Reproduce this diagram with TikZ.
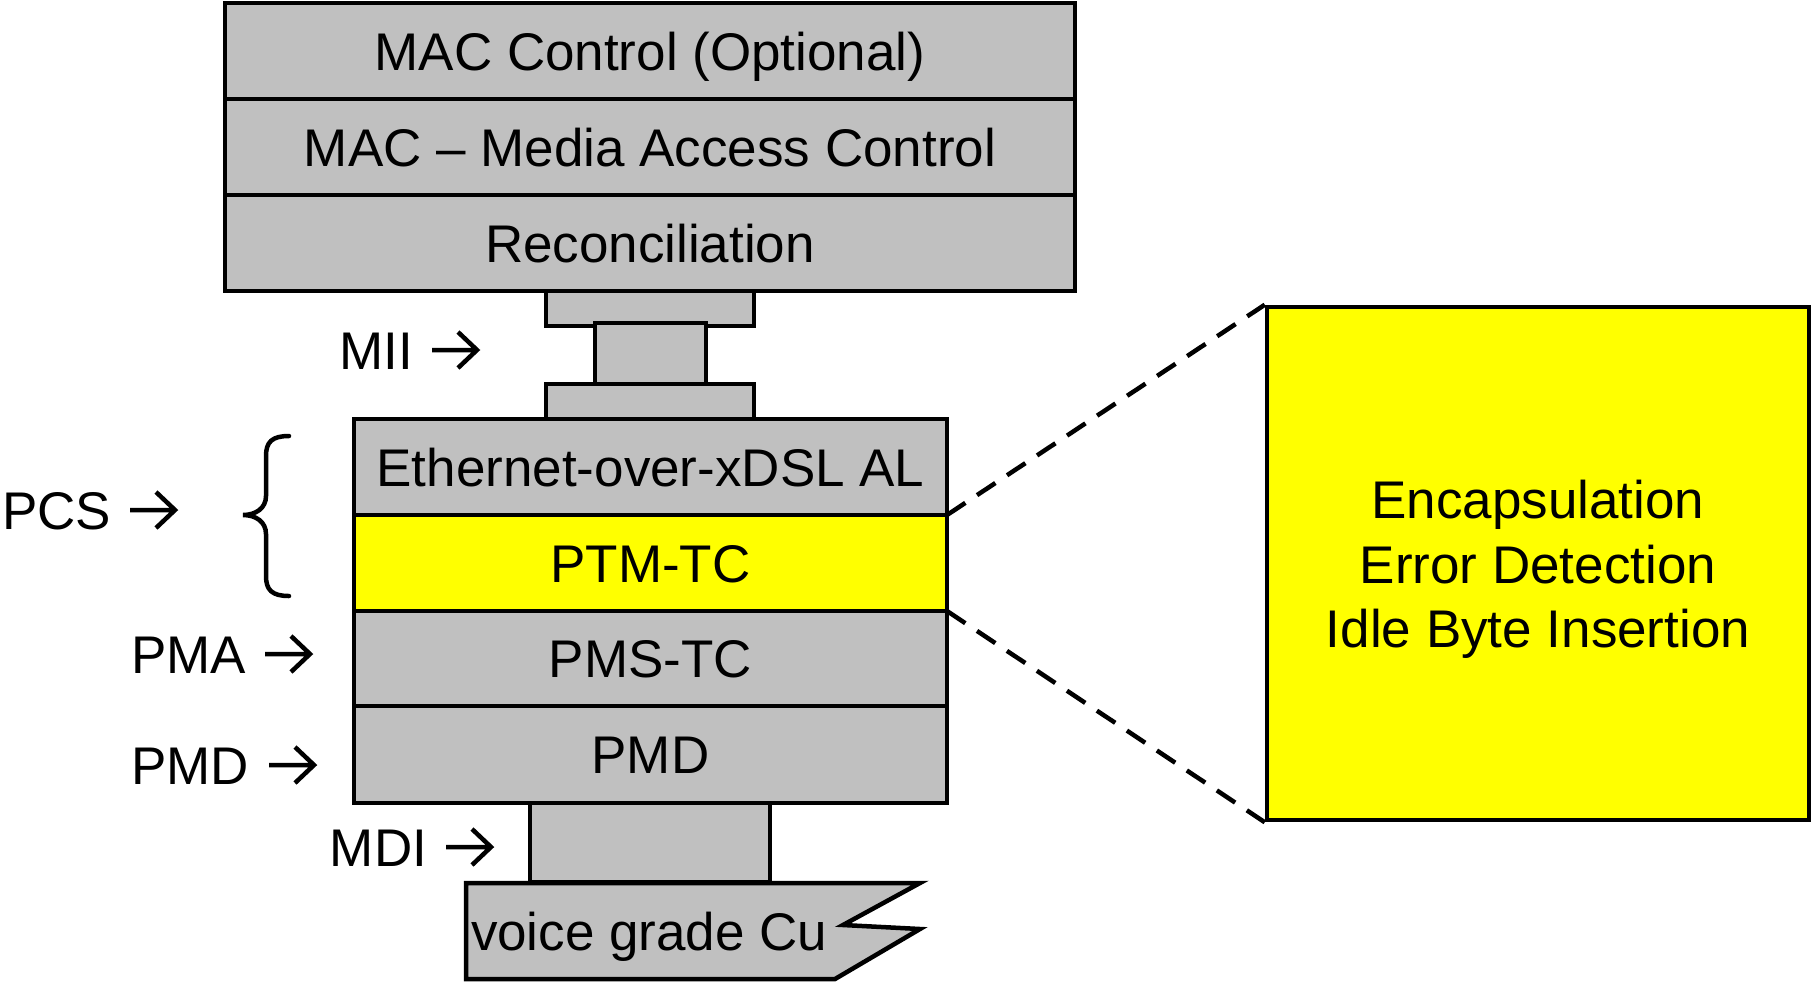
\documentclass[tikz,border=0pt]{standalone}
\usepackage{fontspec}
\setmainfont{Liberation Sans}
\definecolor{layergray}{HTML}{C0C0C0}
\definecolor{hiyellow}{HTML}{FFFF00}
\begin{document}
\begin{tikzpicture}[x=1pt,y=-1pt,
  txt/.style={font=\fontsize{53}{64.5}\selectfont, inner sep=0pt, outer sep=0pt},
  capbox/.style={text height=38pt, text depth=0pt},
  layer/.style={txt, capbox, draw=black, line width=4.5pt, fill=layergray, align=center},
  hilayer/.style={layer, fill=hiyellow},
  lbl/.style={txt, capbox},
  arrowline/.style={draw=black, line width=4.5pt, line join=miter},
  dashline/.style={draw=black, line width=4.5pt, dash pattern=on 22pt off 14pt},
  bracestyle/.style={draw=black, line width=4.5pt, line cap=round}]
\useasboundingbox (0,0) rectangle (1811,986);
% connectors
\node[layer, minimum width=208pt, minimum height=32pt] (c1) at (650,307) {};
\node[layer, minimum width=111pt, minimum height=64pt] (c2) at (650.5,355) {};
\node[layer, minimum width=208pt, minimum height=32pt] (c3) at (650,403) {};
\node[layer, minimum width=240pt, minimum height=79pt] (c4) at (650,842.5) {};
% top stack
\node[layer, minimum width=850pt, minimum height=96pt] (macctl) at (650,51) {MAC Control (Optional)};
\node[layer, minimum width=850pt, minimum height=96pt] (mac) at (650,147) {MAC – Media Access Control};
\node[layer, minimum width=850pt, minimum height=96pt] (rec) at (650,243) {Reconciliation};
% lower stack
\node[layer, minimum width=593pt, minimum height=96pt] (eth) at (650.5,467) {Ethernet-over-xDSL AL};
\node[hilayer, minimum width=593pt, minimum height=96pt] (ptm) at (650.5,563) {PTM-TC};
\node[layer, minimum width=593pt, minimum height=95pt] (pms) at (650.5,658.5) {PMS-TC};
\node[layer, minimum width=593pt, minimum height=97pt] (pmd) at (650.5,754.5) {PMD};
% voice grade Cu
\draw[draw=black, line width=4.5pt, fill=layergray, line join=miter]
  (466,883) -- (920,883) -- (843,925) -- (920,929) -- (835,979) -- (466,979) -- cycle;
\node[lbl, anchor=west] (cu) at (471,931) {voice grade Cu};
% labels with arrows
\node[lbl, anchor=east] (mii) at (413,350) {MII};
\coordinate (miiarr) at (432,350);
\node[lbl, anchor=east] (pcs) at (111,510) {PCS};
\coordinate (pcsarr) at (130,510);
\node[lbl, anchor=east] (pma) at (246,654) {PMA};
\coordinate (pmaarr) at (265,654);
\node[lbl, anchor=east] (pmdl) at (249,765) {PMD};
\coordinate (pmdarr) at (269,765);
\node[lbl, anchor=east] (mdi) at (427,847) {MDI};
\coordinate (mdiarr) at (446,847);
\foreach \a in {miiarr,pcsarr,pmaarr,pmdarr,mdiarr}{
  \draw[arrowline] (\a) -- ++(45,0) ++(-19,-18) -- ++(19,18) -- ++(-19,18);
}
% brace
\draw[bracestyle] (289,436) .. controls (272,436) and (266,442) .. (266,456) -- (266,496)
  .. controls (266,508) and (256,515) .. (243,515)
  .. controls (256,515) and (266,522) .. (266,534) -- (266,576)
  .. controls (266,590) and (272,596) .. (289,596);
% detail box
\node[draw=black, line width=4.5pt, fill=hiyellow, inner sep=0pt, minimum width=542pt, minimum height=513pt] (detail) at (1538,563.5) {};
\node[txt, align=center] (detailtext) at (1538,569.5) {Encapsulation\\Error Detection\\Idle Byte Insertion};
% dashed zoom lines
\draw[dashline] (ptm.north east) -- (detail.north west);
\draw[dashline] (ptm.south east) -- (detail.south west);
\end{tikzpicture}
\end{document}
